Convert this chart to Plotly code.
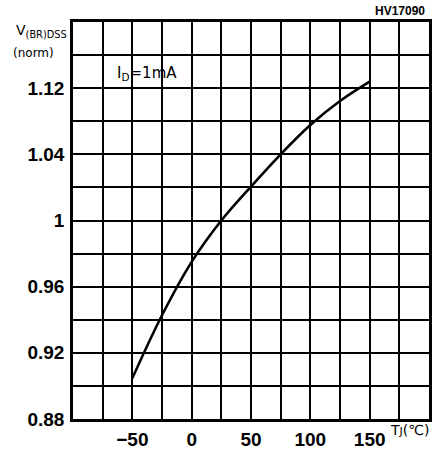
import plotly.graph_objects as go

# Data
tj = [-50, -25, 0, 25, 50, 75, 100, 125, 150]
vbr_norm = [0.9046, 0.9427, 0.975, 1.0, 1.0205, 1.04, 1.0577, 1.0722, 1.0839]

x_tickvals = [-50, 0, 50, 100, 150]
x_ticktext = ["\u221250", "0", "50", "100", "150"]
y_tickvals = [0.88, 0.92, 0.96, 1.00, 1.04, 1.08]
y_ticktext = ["0.88", "0.92", "0.96", "1", "1.04", "1.12"]

fig = go.Figure()
fig.add_trace(go.Scatter(
    x=tj, y=vbr_norm, mode="lines",
    line=dict(color="black", width=2.6, shape="spline"),
    hoverinfo="skip", showlegend=False,
))

fig.update_xaxes(
    range=[-100, 200], showgrid=False, zeroline=False, automargin=False,
    tickmode="array", tickvals=x_tickvals, ticktext=x_ticktext,
    ticks="", ticklabelstandoff=1,
    tickfont=dict(family="Liberation Sans", size=19, color="black", weight="bold"),
    showline=True, linecolor="black", linewidth=2.5, mirror=True,
    minor=dict(dtick=25, tick0=0, showgrid=True, gridcolor="black", gridwidth=1.8),
)
fig.update_yaxes(
    range=[0.88, 1.12], showgrid=False, zeroline=False, automargin=False,
    tickmode="array", tickvals=y_tickvals, ticktext=y_ticktext,
    ticks="", ticklabelstandoff=2,
    tickfont=dict(family="Liberation Sans", size=19, color="black", weight="bold"),
    showline=True, linecolor="black", linewidth=2.5, mirror=True,
    minor=dict(dtick=0.02, tick0=0.88, showgrid=True, gridcolor="black", gridwidth=1.8),
)

ann_font = dict(family="DejaVu Sans", color="black")
fig.add_annotation(xref="paper", yref="paper", x=-0.165, y=1.005, xanchor="left", yanchor="top",
                   text="V<sub>(BR)DSS</sub>", showarrow=False,
                   font=dict(size=14, **ann_font))
fig.add_annotation(xref="paper", yref="paper", x=-0.175, y=0.945, xanchor="left", yanchor="top",
                   text="(norm)", showarrow=False,
                   font=dict(size=12, **ann_font))
fig.add_annotation(xref="paper", yref="paper", x=0.118, y=0.9, xanchor="left", yanchor="top",
                   text="I<sub>D</sub>=1mA", showarrow=False,
                   font=dict(size=15, **ann_font))
fig.add_annotation(xref="paper", yref="paper", x=0.995, y=1.005, xanchor="right", yanchor="bottom",
                   text="<b>HV17090</b>", showarrow=False,
                   font=dict(size=12, family="Liberation Sans", color="black"))
fig.add_annotation(xref="paper", yref="paper", x=0.885, y=-0.003, xanchor="left", yanchor="top",
                   text="T<span style='font-size:11px'>J</span>(\u2103)", showarrow=False,
                   font=dict(size=14, **ann_font))

fig.update_layout(
    width=439, height=452,
    margin=dict(l=73, r=10, t=22, b=33, autoexpand=False),
    paper_bgcolor="white", plot_bgcolor="white",
)

fig.write_html("out.html", config={"displayModeBar": False},
               post_script="document.body.style.margin='0';document.body.style.overflow='hidden';")
